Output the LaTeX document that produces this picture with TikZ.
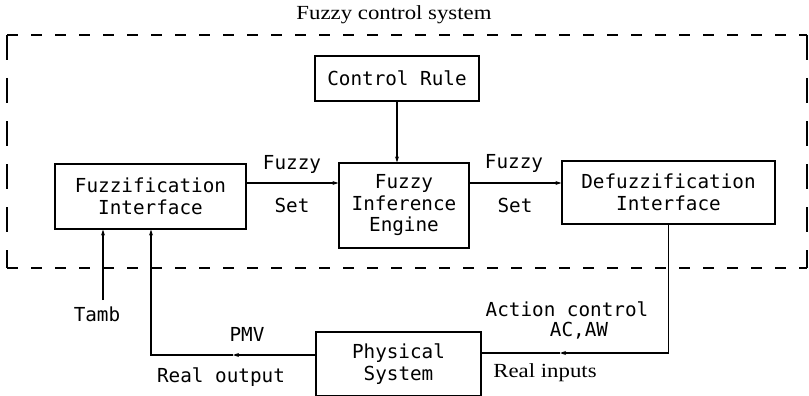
\documentclass[tikz,border=0pt]{standalone}
\usepackage{fontspec}
\setmonofont{DejaVu Sans Mono}
\newfontfamily\serfam{Liberation Serif}
\usetikzlibrary{arrows.meta}
\newcommand\mymono{\fontsize{19.3}{21.5}\selectfont\ttfamily}
\newcommand\myserif{\fontsize{20}{23}\selectfont\serfam}
\newcommand\wideser[1]{\scalebox{1.14}[1]{#1}}
\begin{document}
\begin{tikzpicture}[x=1pt,y=-1pt,
  box/.style={draw,line width=1.2pt,font=\mymono,align=center,inner sep=0pt},
  lab/.style={font=\mymono,inner sep=0pt},
  ser/.style={font=\myserif,inner sep=0pt},
  conn/.style={line width=1.1pt},
  tip/.style={-{Stealth[length=6pt,width=4pt]}},
  hdash/.style={line width=1.3pt,dash pattern=on 11pt off 13pt},
  vdash/.style={line width=1.3pt,dash pattern=on 25pt off 18pt}
]
\clip (0,0) rectangle (809,396);
\fill[white] (0,0) rectangle (809,396);

% title and dashed frame
\node[ser] (title) at (394,15) {\wideser{Fuzzy control system}};
\coordinate (tl) at (7,35);
\coordinate (tr) at (807,35);
\coordinate (bl) at (7,268);
\coordinate (br) at (807,268);
\draw[hdash] (tl) -- (tr);
\draw[hdash] (bl) -- (br);
\draw[vdash] (tl) -- (bl);
\draw[vdash] (tr) -- (br);

% boxes
\node[box,minimum width=164pt,minimum height=45pt] (cr) at (397,78.5) {Control Rule};
\node[box,minimum width=191pt,minimum height=65pt] (fi) at (150.5,196.5) {Fuzzification\\Interface};
\node[box,minimum width=130pt,minimum height=85pt] (fie) at (404,205.5) {Fuzzy\\Inference\\Engine};
\node[box,minimum width=213pt,minimum height=63pt] (di) at (668.5,192.5) {Defuzzification\\Interface};
\node[box,minimum width=165pt,minimum height=64pt] (ps) at (398.5,364) {Physical\\System};

% helper coordinates
\coordinate (r1) at (0,183);
\coordinate (ma) at (560,353);
\coordinate (mb) at (233,355);
\coordinate (fx) at (151,0);
\coordinate (tb) at (103,300);

% connectors
\draw[conn,tip] (cr.south) -- (cr.south |- fie.north);
\draw[conn,tip] (fi.east |- r1) -- (fie.west |- r1);
\draw[conn,tip] (fie.east |- r1) -- (di.west |- r1);
\draw[conn,tip] (di.south) |- (ma);
\draw[conn] (ma) -- (ps.east |- ma);
\draw[conn,tip] (ps.west |- mb) -- (mb);
\draw[conn,tip] (mb) -| (fx |- fi.south);
\draw[conn,tip] (tb) -- (tb |- fi.south);

% labels
\node[lab] (fz1) at (292,164) {Fuzzy};
\node[lab] (st1) at (292,205) {Set};
\node[lab] (fz2) at (514,163) {Fuzzy};
\node[lab] (st2) at (515,205) {Set};
\node[lab] (tamb) at (97,314) {Tamb};
\node[lab] (pmv) at (247,334) {PMV};
\node[lab] (rout) at (221,377) {Real output};
\node[lab] (act) at (567,309.5) {Action control};
\node[lab] (acaw) at (579,331) {AC,AW};
\node[ser] (rin) at (545,373) {\wideser{Real inputs}};
\end{tikzpicture}
\end{document}
